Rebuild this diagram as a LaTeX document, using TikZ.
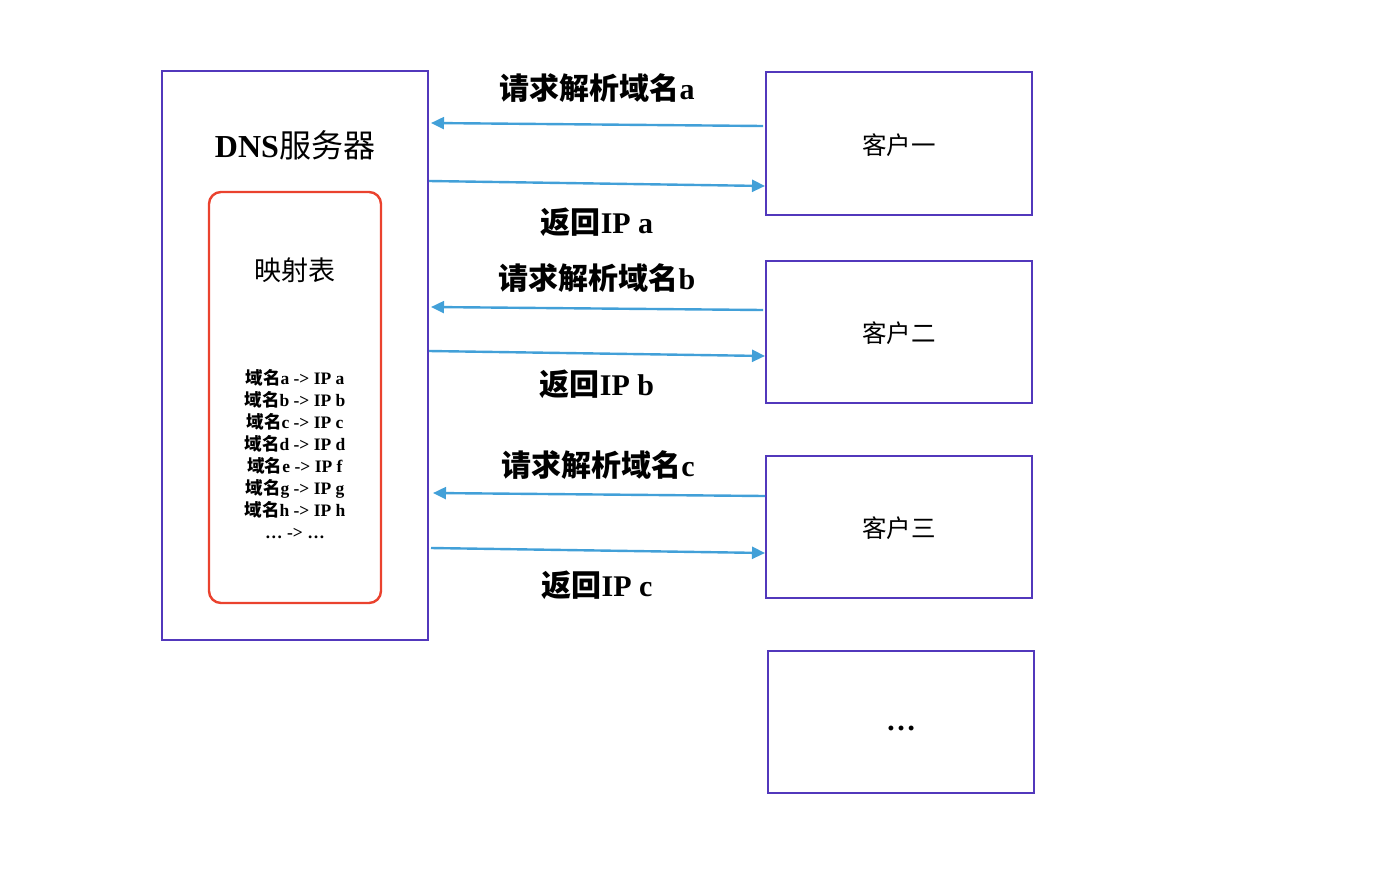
\documentclass[tikz,border=0pt]{standalone}
\usepackage{fontspec}
\setmainfont{Liberation Serif}
\newfontfamily\cjk{Noto Sans CJK SC}
\usetikzlibrary{arrows.meta}
\definecolor{boxpurple}{RGB}{82,56,188}
\definecolor{tabred}{RGB}{234,66,46}
\definecolor{arrblue}{RGB}{66,160,216}
\tikzset{
  srvbox/.style={draw=boxpurple, line width=2.5pt, rectangle, inner sep=0pt},
  tabbox/.style={draw=tabred, line width=2.4pt, rounded corners=12pt, inner sep=0pt},
  msg/.style={draw=arrblue, line width=2.4pt, -{Triangle[length=13pt,width=12pt]}},
  lbl/.style={font=\fontsize{30}{34}\selectfont\bfseries, inner sep=0pt},
}
\begin{document}
\begin{tikzpicture}[x=1pt,y=-1pt]
\useasboundingbox (0,0) rectangle (1400,876);
% DNS server
\node[srvbox, minimum width=266pt, minimum height=569pt] (dns) at (295,355.5) {};
\node[inner sep=0pt, font=\fontsize{32}{36}\selectfont] (dnst) at (295,145) {\textbf{DNS}{\cjk 服务器}};
\node[tabbox, minimum width=172pt, minimum height=411pt] (tab) at (295,397.5) {};
\node[inner sep=0pt, font=\fontsize{27}{30}\selectfont\cjk] (tabt) at (295,270) {映射表};
\node[inner sep=0pt, font=\fontsize{17.5}{22}\selectfont\bfseries, align=center] (map) at (295,454.5) {%
{\cjk 域名}a -> IP a\\
{\cjk 域名}b -> IP b\\
{\cjk 域名}c -> IP c\\
{\cjk 域名}d -> IP d\\
{\cjk 域名}e -> IP f\\
{\cjk 域名}g -> IP g\\
{\cjk 域名}h -> IP h\\
\dots{} -> \dots};
% clients
\node[srvbox, minimum width=266pt, minimum height=143pt] (c1) at (899,143.5) {};
\node[inner sep=0pt, font=\fontsize{24.5}{28}\selectfont\cjk] (c1t) at (899,145) {客户一};
\node[srvbox, minimum width=266pt, minimum height=142pt] (c2) at (899,332) {};
\node[inner sep=0pt, font=\fontsize{24.5}{28}\selectfont\cjk] (c2t) at (899,333) {客户二};
\node[srvbox, minimum width=266pt, minimum height=142pt] (c3) at (899,527) {};
\node[inner sep=0pt, font=\fontsize{24.5}{28}\selectfont\cjk] (c3t) at (899,528) {客户三};
\node[srvbox, minimum width=266pt, minimum height=142pt] (c4) at (901,722) {};
\node[inner sep=0pt, font=\fontsize{30}{32}\selectfont\bfseries] (c4t) at (901,728) {\dots};
% arrow end points
\coordinate (r1s) at (763,126); \coordinate (r1e) at (431,123);
\coordinate (a1s) at (429,181); \coordinate (a1e) at (765,186);
\coordinate (r2s) at (763,310); \coordinate (r2e) at (431,307);
\coordinate (a2s) at (429,351); \coordinate (a2e) at (765,356);
\coordinate (r3s) at (765,496); \coordinate (r3e) at (433,493);
\coordinate (a3s) at (431,548); \coordinate (a3e) at (765,553);
\draw[msg] (r1s) -- (r1e);
\draw[msg] (a1s) -- (a1e);
\draw[msg] (r2s) -- (r2e);
\draw[msg] (a2s) -- (a2e);
\draw[msg] (r3s) -- (r3e);
\draw[msg] (a3s) -- (a3e);
% labels
\node[lbl] (l1) at (597,88) {{\cjk 请求解析域名}a};
\node[lbl] (l2) at (597,222) {{\cjk 返回}IP a};
\node[lbl] (l3) at (597,278) {{\cjk 请求解析域名}b};
\node[lbl] (l4) at (597,384) {{\cjk 返回}IP b};
\node[lbl] (l5) at (598,465) {{\cjk 请求解析域名}c};
\node[lbl] (l6) at (597,585) {{\cjk 返回}IP c};
\end{tikzpicture}
\end{document}
